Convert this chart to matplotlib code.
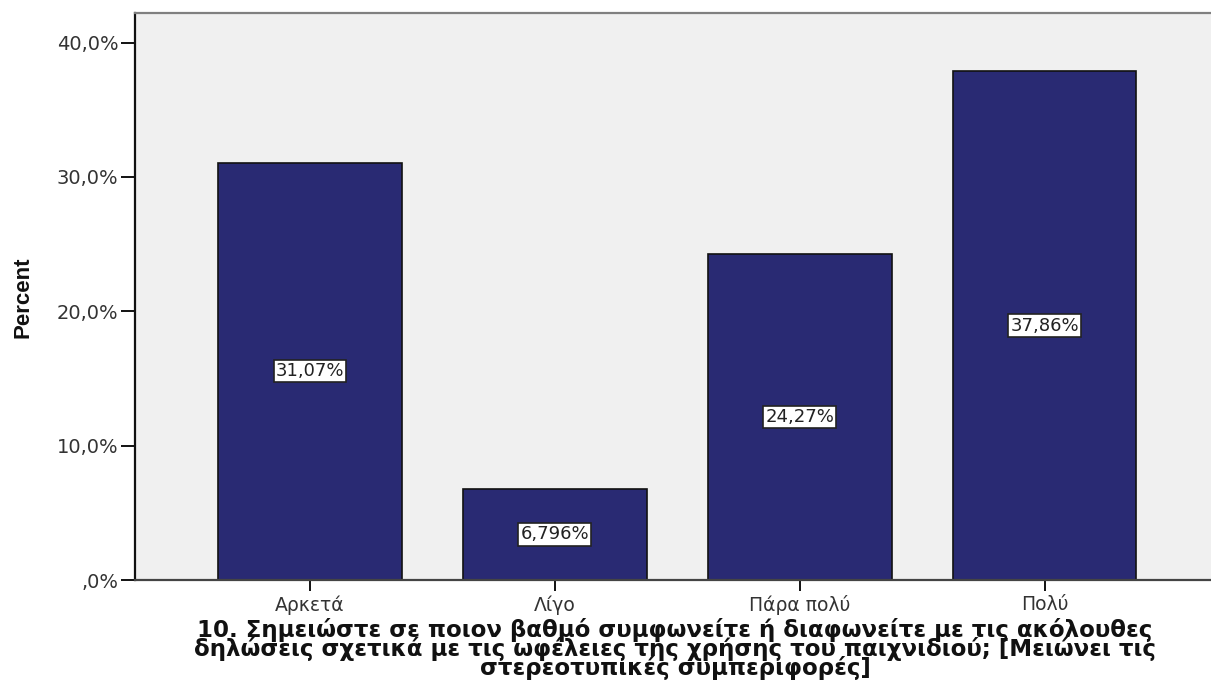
import matplotlib
matplotlib.use("Agg")
import matplotlib.pyplot as plt

categories = ["Αρκετά", "Λίγο", "Πάρα πολύ", "Πολύ"]
percents = [31.07, 6.796, 24.27, 37.86]
value_labels = ["31,07%", "6,796%", "24,27%", "37,86%"]
yticks = [0, 10, 20, 30, 40]
ytick_labels = [",0%", "10,0%", "20,0%", "30,0%", "40,0%"]
title_lines = [
    "10. Σημειώστε σε ποιον βαθμό συμφωνείτε ή διαφωνείτε με τις ακόλουθες",
    "δηλώσεις σχετικά με τις ωφέλειες της χρήσης του παιχνιδιού; [Μειώνει τις",
    "στερεοτυπικές συμπεριφορές]",
]

plt.rcParams['font.family'] = ['DejaVu Sans']

fig = plt.figure(figsize=(12.11, 6.83), dpi=100)
ax = fig.add_axes([135 / 1211, 1 - 580 / 683, 1 - 135 / 1211, (580 - 13) / 683])
ax.set_facecolor("#f0f0f0")

x = list(range(len(categories)))
ax.bar(x, percents, width=0.75, color="#292a73", edgecolor="#111111", linewidth=1.2, zorder=2)

for xi, v, lab in zip(x, percents, value_labels):
    ax.text(xi, v / 2, lab, ha="center", va="center", fontsize=13, color="#222222",
            bbox=dict(boxstyle="square,pad=0.12", facecolor="white", edgecolor="#222222", linewidth=1.2),
            zorder=3)

ax.set_xlim(-0.715, 3.68)
ax.set_ylim(0, 42.2)
ax.set_yticks(yticks)
ax.set_yticklabels(ytick_labels)
ax.set_xticks(x)
ax.set_xticklabels(categories)
ax.tick_params(axis="y", length=10, width=1.4, labelsize=14, colors="#111111", pad=2)
ax.tick_params(axis="x", length=8, width=1.4, labelsize=13.5, colors="#111111", pad=3)
for lab in ax.get_yticklabels() + ax.get_xticklabels():
    lab.set_color("#333333")

ax.spines["left"].set_linewidth(1.6)
ax.spines["left"].set_color("#111111")
ax.spines["bottom"].set_linewidth(1.6)
ax.spines["bottom"].set_color("#444444")
ax.spines["top"].set_linewidth(1.6)
ax.spines["top"].set_color("#808080")
ax.spines["right"].set_visible(False)

fig.text(23 / 1211, 1 - 297 / 683, "Percent", rotation=90, ha="center", va="center",
         fontsize=16, fontweight="bold", family=["Liberation Sans", "DejaVu Sans"], color="#111111")

fig.text(675 / 1211, 1 - 649 / 683, "\n".join(title_lines), ha="center", va="center",
         multialignment="center", fontsize=16.5, linespacing=0.72,
         fontweight="bold", color="#111111")

fig.savefig("out.png", dpi=100, facecolor="white")
